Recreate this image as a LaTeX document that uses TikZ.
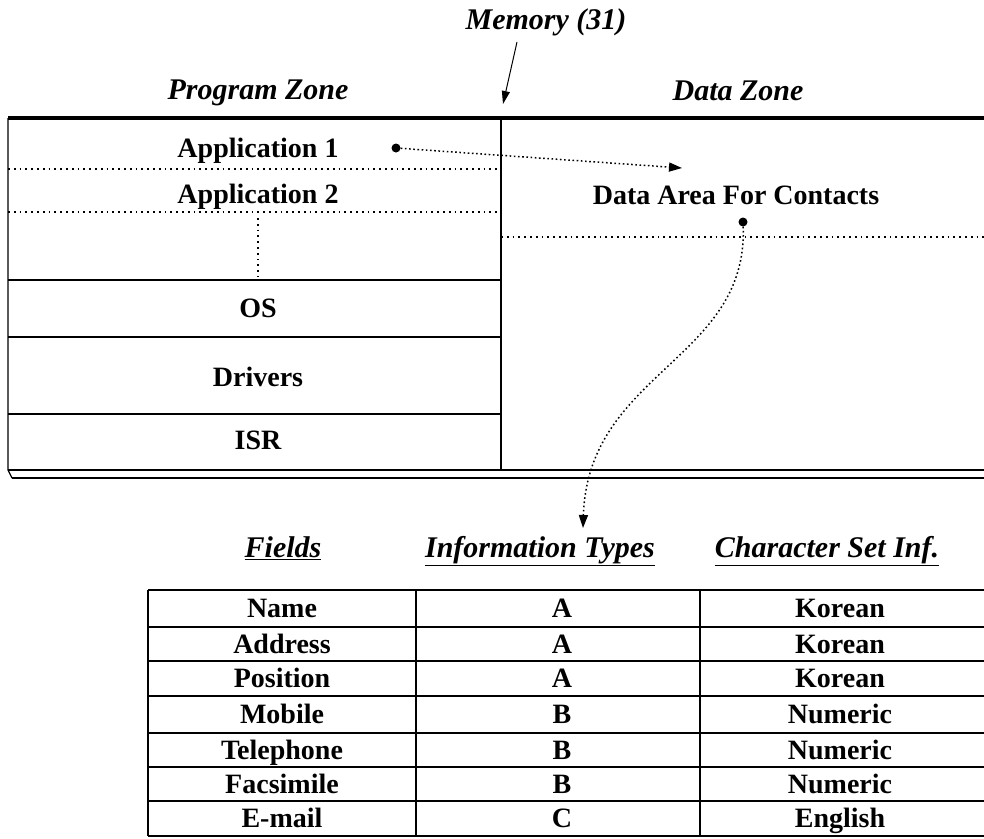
\documentclass[tikz,border=0pt]{standalone}
\usepackage{fontspec}
\setmainfont{Liberation Serif}
\usetikzlibrary{arrows.meta}

\begin{document}
\begin{tikzpicture}[x=1pt,y=-1pt]
            \tikzset{
            mz text/.style={font=\fontsize{28}{30}\selectfont\bfseries,inner sep=0,text height=20pt,text depth=2pt},
            mz head/.style={font=\fontsize{30}{32}\selectfont\bfseries\itshape,inner sep=0,text height=21pt,text depth=3pt},
            mz dot/.style={circle,fill,inner sep=0,minimum size=9pt},
            mz link/.style={dash pattern=on 1.6pt off 2.6pt,line width=1.5pt,-{Triangle[length=13pt,width=9pt]}},
            mz sep/.style={dash pattern=on 1.8pt off 4pt,line width=1.6pt},
            mz line/.style={line width=2pt}
            }
            \useasboundingbox (0,0) rectangle (984,838);

            % memory label and zones
            \node[mz head] (MEM) at (546,20) {Memory (31)};
            \coordinate (MEMtail) at (517,42);
            \coordinate (MEMtip) at (503,104);
            \node[mz head] (PZ) at (258,90) {Program Zone};
            \node[mz head] (DZ) at (738,91) {Data Zone};
            \draw[line width=1pt,-{Triangle[length=13pt,width=8pt]}] (MEMtail) -- (MEMtip);

            % memory box
            \draw[line width=3.2pt] (8,118) -- (984,118);
            \draw[line width=1.2pt] (8,118) -- (8,470) -- (12,478);
            \draw[mz line] (8,470) -- (984,470);
            \draw[mz line] (12,478) -- (984,478);
            \draw[mz line] (501,118) -- (501,470);
            \draw[mz line] (8,280) -- (501,280);
            \draw[mz line] (8,337) -- (501,337);
            \draw[mz line] (8,414) -- (501,414);
            \draw[mz sep] (8,169) -- (501,169);
            \draw[mz sep] (8,212) -- (501,212);
            \draw[mz sep] (258,218) -- (258,277);
            \draw[mz sep] (501,237) -- (984,237);

            \node[mz text] (A1) at (258,148) {Application 1};
            \node[mz text] (A2) at (258,194) {Application 2};
            \node[mz text] (OS) at (258,308) {OS};
            \node[mz text] (DRV) at (258,377) {Drivers};
            \node[mz text] (ISR) at (258,440) {ISR};
            \node[mz text] (DA) at (736,195) {Data Area For Contacts};

            % links
            \node[mz dot] (D1) at (396,148) {};
            \node[mz dot] (D2) at (743,222) {};
            \coordinate (DAtip) at (682,168);
            \coordinate (TYtip) at (583,528);
            \draw[mz link] (D1) -- (DAtip);
            \draw[mz link] (D2) .. controls (748,360) and (588,372) .. (TYtip);

            % table headings
            \node[mz head] (FH) at (283,548) {\underline{Fields}};
            \node[mz head] (IH) at (540,548) {\underline{Information Types}};
            \node[mz head] (CH) at (827,548) {\underline{Character Set Inf.}};

            % table
            \draw[mz line] (148,590) -- (984,590);
            \draw[mz line] (148,627) -- (984,627);
            \draw[mz line] (148,661) -- (984,661);
            \draw[mz line] (148,696) -- (984,696);
            \draw[mz line] (148,733) -- (984,733);
            \draw[mz line] (148,767) -- (984,767);
            \draw[mz line] (148,801) -- (984,801);
            \draw[mz line] (148,836) -- (984,836);
            \draw[mz line] (148,590) -- (148,836);
            \draw[mz line] (416,590) -- (416,836);
            \draw[mz line] (700,590) -- (700,836);

            \node[mz text] (F1) at (282,608) {Name};
            \node[mz text] (F2) at (282,644) {Address};
            \node[mz text] (F3) at (282,678) {Position};
            \node[mz text] (F4) at (282,714) {Mobile};
            \node[mz text] (F5) at (282,750) {Telephone};
            \node[mz text] (F6) at (282,784) {Facsimile};
            \node[mz text] (F7) at (282,818) {E-mail};
            \node[mz text] (T1) at (562,608) {A};
            \node[mz text] (T2) at (562,644) {A};
            \node[mz text] (T3) at (562,678) {A};
            \node[mz text] (T4) at (562,714) {B};
            \node[mz text] (T5) at (562,750) {B};
            \node[mz text] (T6) at (562,784) {B};
            \node[mz text] (T7) at (562,818) {C};
            \node[mz text] (C1) at (840,608) {Korean};
            \node[mz text] (C2) at (840,644) {Korean};
            \node[mz text] (C3) at (840,678) {Korean};
            \node[mz text] (C4) at (840,714) {Numeric};
            \node[mz text] (C5) at (840,750) {Numeric};
            \node[mz text] (C6) at (840,784) {Numeric};
            \node[mz text] (C7) at (840,818) {English};
\end{tikzpicture}
\end{document}
